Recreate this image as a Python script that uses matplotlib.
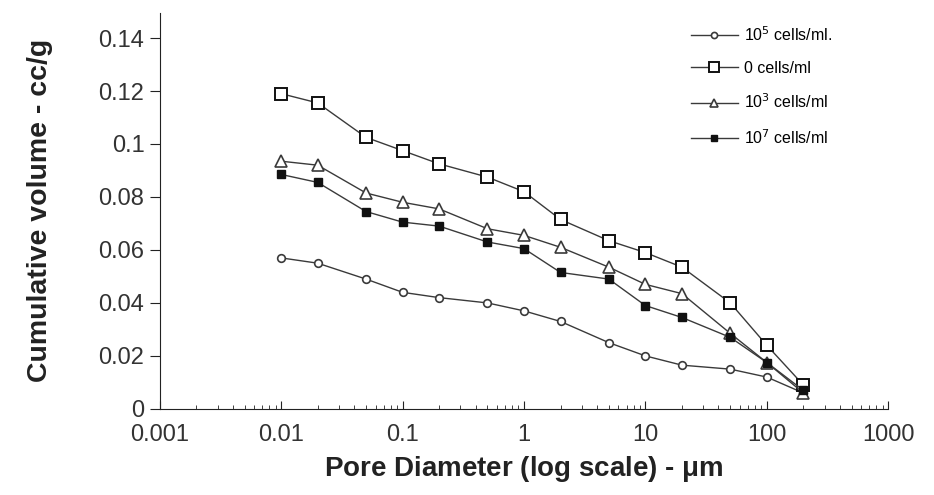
import numpy as np
import matplotlib.pyplot as plt
from matplotlib.ticker import LogLocator, NullFormatter

plt.rcParams['font.family'] = ['Liberation Sans', 'DejaVu Sans']

# pore diameters (um)
diameter = [0.01, 0.02, 0.05, 0.1, 0.2, 0.5, 1, 2, 5, 10, 20, 50, 100, 200]

# cumulative volume (cc/g) per bacterial concentration
vol_1e5 = [0.057, 0.055, 0.049, 0.044, 0.042, 0.040, 0.037, 0.033, 0.025, 0.020, 0.0165, 0.015, 0.012, 0.006]
vol_0 = [0.119, 0.1155, 0.1025, 0.0975, 0.0925, 0.0875, 0.082, 0.0715, 0.0635, 0.059, 0.0535, 0.040, 0.024, 0.009]
vol_1e3 = [0.0935, 0.092, 0.0815, 0.078, 0.0755, 0.068, 0.0655, 0.061, 0.0535, 0.047, 0.0435, 0.0285, 0.0175, 0.006]
vol_1e7 = [0.0885, 0.0855, 0.0745, 0.0705, 0.069, 0.063, 0.0605, 0.0515, 0.049, 0.039, 0.0345, 0.027, 0.0175, 0.007]

fig = plt.figure(figsize=(9.34, 4.95), dpi=100)
ax = fig.add_axes([0.171, 0.174, 0.78, 0.80])

lc = '#3a3a3a'
ax.plot(diameter, vol_1e5, color=lc, lw=1, marker='o', ms=5.5, mfc='white', mec=lc, mew=1.2,
        label=r'10$^{5}$ cells/ml.')
ax.plot(diameter, vol_0, color=lc, lw=1, marker='s', ms=9, mfc='white', mec='#111111', mew=1.4,
        label='0 cells/ml')
ax.plot(diameter, vol_1e3, color=lc, lw=1, marker='^', ms=8, mfc='white', mec=lc, mew=1.2,
        label=r'10$^{3}$ cells/ml')
ax.plot(diameter, vol_1e7, color=lc, lw=1, marker='s', ms=5.5, mfc='#111111', mec='#111111',
        label=r'10$^{7}$ cells/ml')

ax.set_xscale('log')
ax.set_xlim(0.001, 1000)
ax.set_ylim(0, 0.1495)
ax.set_xticks([0.001, 0.01, 0.1, 1, 10, 100, 1000])
ax.set_xticklabels(['0.001', '0.01', '0.1', '1', '10', '100', '1000'])
ax.xaxis.set_minor_locator(LogLocator(base=10, subs=np.arange(2, 10), numticks=20))
ax.xaxis.set_minor_formatter(NullFormatter())
ax.set_yticks([0, 0.02, 0.04, 0.06, 0.08, 0.1, 0.12, 0.14])
ax.set_yticklabels(['0', '0.02', '0.04', '0.06', '0.08', '0.1', '0.12', '0.14'])

for s in ['top', 'right']:
    ax.spines[s].set_visible(False)
ax.spines['left'].set_color('#222222')
ax.spines['bottom'].set_color('#222222')

ax.tick_params(axis='y', direction='out', length=7, labelsize=17, colors='#222222', labelcolor='#333333', pad=4)
ax.tick_params(axis='x', which='major', direction='in', length=6, labelsize=17, colors='#222222',
               labelcolor='#333333', pad=11)
ax.tick_params(axis='x', which='minor', direction='in', length=3, colors='#222222')

ax.set_xlabel(r'Pore Diameter (log scale) - $\mathregular{\mu}$m', fontsize=20, fontweight='bold',
              color='#222222', labelpad=6)
ax.set_ylabel('Cumulative volume - cc/g', fontsize=20.5, fontweight='bold', color='#222222')
ax.yaxis.set_label_coords(-0.147, 0.5)

ax.legend(loc='upper left', bbox_to_anchor=(0.71, 1.005), frameon=False, fontsize=11.5,
          handlelength=2.9, labelspacing=1.05, handletextpad=0.4, markerscale=0.8)

fig.savefig('out.png', dpi=100)
